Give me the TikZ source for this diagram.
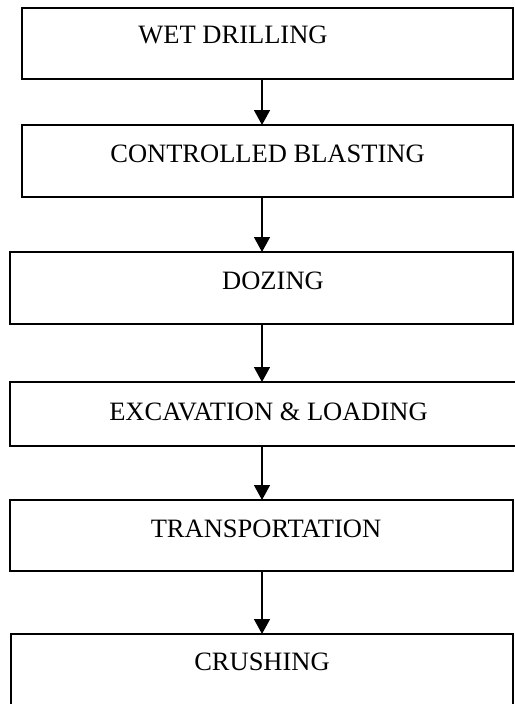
\documentclass[tikz,border=0pt]{standalone}
\usepackage{fontspec}
\setmainfont{Liberation Serif}
\usetikzlibrary{arrows.meta}
\begin{document}
\begin{tikzpicture}[x=1pt,y=-1pt,
  boxstyle/.style={draw=black,line width=1.2pt},
  lbl/.style={anchor=base,inner sep=0pt,font=\fontsize{26.5}{30}\selectfont},
  arr/.style={line width=1.5pt,-{Triangle[width=16pt,length=15pt]}}]
\useasboundingbox[fill=white] (0,0) rectangle (514,704);
\coordinate (ax) at (262,0);
\draw[boxstyle] (22,8) rectangle (513,79);
\draw[boxstyle] (22,125) rectangle (513,197);
\draw[boxstyle] (10,252) rectangle (513,324);
\draw[boxstyle] (10,382) rectangle (517,446);
\draw[boxstyle] (10,500) rectangle (513,571);
\draw[boxstyle] (11,634) rectangle (513,712);
\coordinate (b1s) at (262,79);
\coordinate (b2n) at (262,125);
\coordinate (b2s) at (262,197);
\coordinate (b3n) at (262,252);
\coordinate (b3s) at (262,324);
\coordinate (b4n) at (262,382);
\coordinate (b4s) at (262,446);
\coordinate (b5n) at (262,500);
\coordinate (b5s) at (262,571);
\coordinate (b6n) at (262,634);
\node[lbl] (t1) at (233,43) {WET DRILLING};
\node[lbl] (t2) at (267.5,162) {CONTROLLED BLASTING};
\node[lbl] (t3) at (273,289) {DOZING};
\node[lbl] (t4) at (268.5,420) {EXCAVATION \& LOADING};
\node[lbl] (t5) at (266,537) {TRANSPORTATION};
\node[lbl] (t6) at (262,670) {CRUSHING};
\draw[arr] (b1s) -- (b2n);
\draw[arr] (b2s) -- (b3n);
\draw[arr] (b3s) -- (b4n);
\draw[arr] (b4s) -- (b5n);
\draw[arr] (b5s) -- (b6n);
\end{tikzpicture}
\end{document}
